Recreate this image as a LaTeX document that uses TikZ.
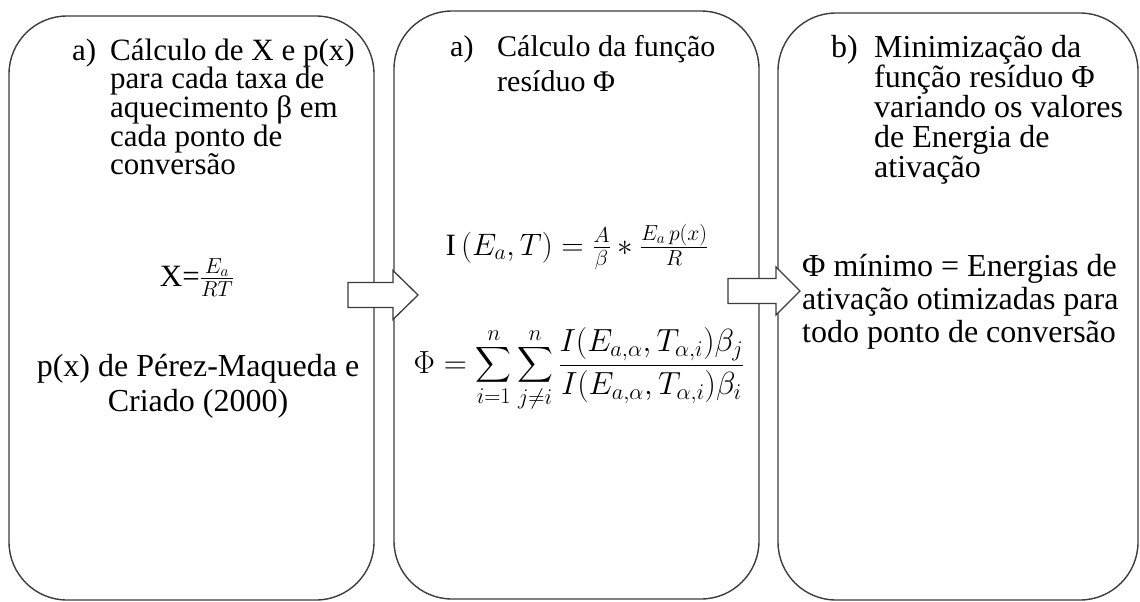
\RequirePackage{fix-cm}
\documentclass[tikz,border=0pt]{standalone}
\usepackage{amsmath}
\usepackage{fontspec}
\setmainfont{Liberation Serif}
\usetikzlibrary{calc,positioning}
\definecolor{boxgray}{RGB}{60,60,60}
\newcommand\txtsize{\fontsize{31}{34}\selectfont}
\newcommand\midtxtsize{\fontsize{32}{34}\selectfont}

\begin{document}
\begin{tikzpicture}[x=1pt,y=-1pt,
    stepbox/.style={draw=boxgray, line width=1.4pt, rounded corners=58pt, inner sep=0pt},
    blockarrow/.style={draw=boxgray, line width=1.3pt, fill=white, line join=miter},
    txt/.style={inner sep=0pt, font=\txtsize}]
        \useasboundingbox (0,0) rectangle (1140,602);
        % Three steps
        \node[stepbox, minimum width=365pt, minimum height=584pt] (box1) at (191.5,308) {};
        \node[stepbox, minimum width=365pt, minimum height=588pt] (box2) at (576.5,305) {};
        \node[stepbox, minimum width=360pt, minimum height=587pt] (box3) at (958,306.5) {};
        % Block arrows between the steps
        \coordinate (arrA) at (348,295);
        \coordinate (arrB) at (728,291);
        \draw[blockarrow] (arrA) ++(0,-12.5) -- ++(45,0) -- ++(0,-12) -- ++(25,24.5)
            -- ++(-25,24.5) -- ++(0,-12) -- ++(-45,0) -- cycle;
        \draw[blockarrow] (arrB) ++(0,-12.5) -- ++(48,0) -- ++(0,-11.5) -- ++(24,24)
            -- ++(-24,24) -- ++(0,-11.5) -- ++(-48,0) -- cycle;
        % Step 1
        \node[txt, anchor=base west] (labA) at (72,60) {a)};
        \foreach \line [count=\i] in {Cálculo de X e p(x), para cada taxa de,
            aquecimento β em, cada ponto de, conversão}
          \node[txt, anchor=base west] (hA\i) at (110,{60+28.7*(\i-1)}) {\line};
        \node[txt, anchor=base] (eqX) at (197,286) {X=$\frac{E_a}{RT}$};
        \node[txt, font=\midtxtsize, anchor=base] (refA) at (198,376) {p(x) de Pérez-Maqueda e};
        \node[txt, font=\midtxtsize, anchor=base] (refB) at (198,411) {Criado (2000)};
        % Step 2
        \node[txt, font=\fontsize{30}{34}\selectfont, anchor=base west] (labB) at (450,57) {a)};
        \node[txt, font=\fontsize{30}{34}\selectfont, anchor=base west] (hB1) at (497,57) {Cálculo da função};
        \node[txt, font=\fontsize{30}{34}\selectfont, anchor=base west] (hB2) at (497,91) {resíduo Φ};
        \node[txt, anchor=base] (eqI) at (577,255)
            {I\,$(E_a,T)=\frac{A}{\beta}*\frac{E_a\,p(x)}{R}$};
        \node[txt, font=\midtxtsize, anchor=base] (eqPhi) at (579,373)
            {$\displaystyle\Phi=\sum_{i=1}^{n}\sum_{j\neq i}^{n}
              \frac{I(E_{a,\alpha},T_{\alpha,i})\beta_j}{I(E_{a,\alpha},T_{\alpha,i})\beta_i}$};
        % Step 3
        \node[txt, font=\midtxtsize, anchor=base west] (labC) at (831,58) {b)};
        \foreach \line [count=\i] in {Minimização da, função resíduo Φ,
            variando os valores, de Energia de, ativação}
          \node[txt, font=\midtxtsize, anchor=base west] (hC\i) at (874,{58+29.75*(\i-1)}) {\line};
        \foreach \line [count=\i] in {Φ mínimo = Energias de,
            ativação otimizadas para, todo ponto de conversão}
          \node[txt, font=\midtxtsize, anchor=base west] (rC\i) at (802,{276+33*(\i-1)}) {\line};
\end{tikzpicture}
\end{document}
